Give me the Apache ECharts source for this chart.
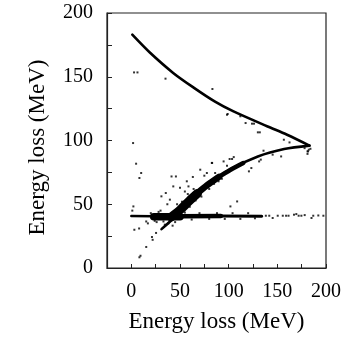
<!DOCTYPE html>
<html>
<head>
<meta charset="utf-8">
<script src="https://cdn.jsdelivr.net/npm/echarts@6/dist/echarts.min.js"></script>
<style>
html,body{margin:0;padding:0;background:#fff;}
#chart{width:346px;height:343px;}
</style>
</head>
<body>
<div id="chart"></div>
<script>
// x/y tick values (MeV)
const xTicks = [0, 50, 100, 150, 200];
const yTicks = [0, 50, 100, 150, 200];

// Upper kinematic curve
const upperCurve = [[1,183],[19,169],[43,153],[64,141.5],[86,130.5],[105,122.8],[140,111],[160,104.5],[183,96]];
// Lower kinematic curve
const lowerCurve = [[31,30.5],[46,41],[60,53],[78,65.3],[102,77.5],[130,87.5],[157,93.3],[183,96]];
// Dense part of lower band
const lowerBandThick = [[41,40],[50,45.5],[60,53],[68,58.5]];
const lowerBandMid = [[66,57.5],[78,65],[90,71.5]];
const lowerBandThin = [[88,70.5],[102,77],[115,82.3]];
// Horizontal band at ~40 MeV
const hBandThin = [[0,40.8],[22,40.5]];
const hBandThick = [[23,40.2],[50,40.2]];
const hBandMid = [[50,40.6],[92,40.7]];
const hBandLight = [[90,40.7],[134,40.6]];

// scattered events
const scatterPts = [
  [2.8,153.4],[6.3,153.4],[35.1,148.5],[83.3,140.4],[99,120.8],[112,119],
  [98.3,120.2],[117.4,113.7],[124,113.2],[126,113.2],[130,106.4],[132,106.4],
  [156.7,100.6],[162.5,98.5],[182.3,92.8],[181,91.5],[178,94],[184,93.5],
  [1.8,98],[4.9,81.8],[10.1,74.5],[8.3,70.6],[2.1,48.3],[1,45],
  [3.1,30],[8,31],[15.3,36.5],[17,35],[21.2,24.3],[21.9,22.1],[25.4,27.5],
  [15.3,16.5],[9.4,9.6],[8.3,8.4],
  [30.9,56.2],[35.4,58.8],[41.3,71.8],[45.8,71.8],[43.1,64],[50,63],[57,68],
  [58.7,64],[63.2,71.4],[55,60],[70.8,77.1],[75,72.4],[77.6,74.5],[83,82.4],
  [39.6,53.6],[37,50],[34.4,34],[42.4,33.2],[38,35],
  [82.7,82.4],[94.8,83.6],[101,85.5],[103.5,85.5],[105.2,87],[98.3,80.2],
  [131.3,83.6],[133,85],[135.8,92],[145.2,88.9],[153.9,87.5],[181.6,91.5],[181,89.5],
  [123.3,78.4],[120.8,75.8],[91.3,72.4],[86.1,74.5],[89.6,68],[93,70],
  [108.7,52.2],[101.8,48.3],[78,66],
  [20,43],[24,37],[28,44],[33,36.5],[45,36],[48,44.5],[30,45],[26,36],
  [55,43.5],[62,38],[70,43],[80,38.5],[88,43],[96,38.5],[104,43],[112,38.5],[120,43],[127,39],
  [47,50],[52,52],[58,58],[64,62],[60,48],[66,53],[72,56],[80,62],[85,66],
  [138.2,41],[141.7,41],[145.2,39.2],[150.4,41],[155.6,41],[159,41],[161.5,41],
  [167.1,41.8],[169.5,42.3],[171.9,41],[174.7,41],[178.1,41.5],[185.1,39.2],
  [186.9,41],[192.1,41.2],[197.3,41]
];

const chart = echarts.init(document.getElementById('chart'));
const FONT = '"Liberation Serif", "DejaVu Serif", serif';

function lineSeries(data, width, smooth) {
  return {
    type: 'line', data: data, symbol: 'none', silent: true,
    smooth: smooth || false,
    lineStyle: { color: '#000', width: width, cap: 'round', join: 'round' },
    z: 3
  };
}

chart.setOption({
  backgroundColor: '#fff',
  animation: false,
  grid: { left: 107, right: 20, top: 13, bottom: 75, show: true, borderColor: '#222', borderWidth: 1.2, backgroundColor: 'transparent' },
  xAxis: {
    type: 'value', min: -25, max: 200, interval: 25,
    name: 'Energy loss (MeV)', nameLocation: 'middle', nameGap: 42,
    nameTextStyle: { fontFamily: FONT, fontSize: 23, color: '#000' },
    axisLine: { show: true, onZero: false, lineStyle: { color: '#222', width: 1.2 } },
    axisTick: { show: true, inside: true, length: 4, lineStyle: { color: '#222' } },
    axisLabel: {
      fontFamily: FONT, fontSize: 20, color: '#000', margin: 14,
      formatter: v => xTicks.indexOf(v) >= 0 ? String(v) : ''
    },
    splitLine: { show: false }
  },
  yAxis: {
    type: 'value', min: 0, max: 200, interval: 25,
    name: 'Energy loss (MeV)', nameLocation: 'middle', nameGap: 58, nameRotate: 90,
    nameTextStyle: { fontFamily: FONT, fontSize: 23, color: '#000', padding: [0, 14, 0, 0] },
    axisLine: { show: true, onZero: false, lineStyle: { color: '#222', width: 1.2 } },
    axisTick: { show: true, inside: true, length: 5, lineStyle: { color: '#222' } },
    axisLabel: {
      fontFamily: FONT, fontSize: 20, color: '#000', margin: 14,
      formatter: v => yTicks.indexOf(v) >= 0 ? String(v) : ''
    },
    splitLine: { show: false }
  },
  series: [
    lineSeries(upperCurve, 2.6, 0.3),
    lineSeries(lowerCurve, 2.6, 0.3),
    lineSeries(lowerBandThick, 9, 0.3),
    lineSeries(lowerBandMid, 6.5, 0.3),
    lineSeries(lowerBandThin, 4.5, 0.3),
    lineSeries(hBandThin, 2.5),
    lineSeries(hBandThick, 7.5),
    lineSeries(hBandMid, 4.5),
    lineSeries(hBandLight, 3),
    {
      type: 'scatter', data: scatterPts, symbol: 'rect', symbolSize: 2, silent: true,
      itemStyle: { color: '#000' }, z: 4
    }
  ]
});
</script>
</body>
</html>
